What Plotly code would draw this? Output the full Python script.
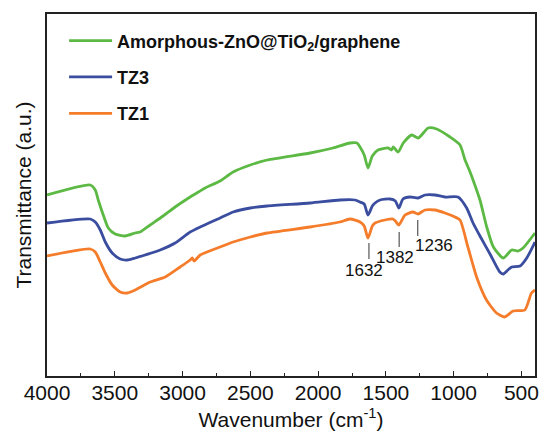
import plotly.graph_objects as go

# FTIR spectra, transmittance in arbitrary units (offset curves)
green_wn = [4000, 3681, 3644, 3622, 3585, 3548, 3497, 3423, 3349, 3313, 3239, 3143, 3055, 2944,
            2920, 2907, 2833, 2723, 2627, 2500, 2376, 2059, 1890, 1765, 1713, 1691, 1660, 1632,
            1600, 1558, 1483, 1458, 1446, 1409, 1372, 1310, 1261, 1188, 1126, 1027, 953, 916,
            879, 857, 806, 756, 707, 634, 572, 524, 488, 400]
green_t = [181, 191, 186, 176, 161, 148, 142, 140, 143, 144, 151, 160, 169, 179,
           181, 182, 188, 195, 204, 211, 216, 223, 228, 233, 233, 229, 221, 208,
           220, 226, 228, 226, 229, 224, 233, 241, 238, 248, 247, 239, 231, 216,
           204, 196, 176, 149, 129, 118, 126, 125, 128, 143]

blue_wn = [4000, 3681, 3644, 3607, 3570, 3519, 3460, 3408, 3349, 3276, 3165, 3055, 2944, 2870,
           2723, 2627, 2500, 2376, 2059, 1839, 1728, 1691, 1660, 1632, 1600, 1580, 1543, 1470,
           1430, 1404, 1374, 1322, 1263, 1212, 1138, 1064, 968, 904, 857, 806, 732, 660, 634,
           600, 572, 510, 461, 400]
blue_t = [153, 157, 154, 146, 134, 123, 117, 116, 118, 121, 126, 133, 144, 149,
          158, 164, 168, 170, 173, 176, 176, 174, 172, 161, 170, 173, 176, 177,
          175, 168, 177, 179, 178, 181, 181, 179, 179, 168, 153, 140, 122, 104, 102,
          106, 109, 110, 118, 134]

orange_wn = [4000, 3681, 3644, 3607, 3570, 3519, 3460, 3408, 3349, 3239, 3128, 3018, 2944, 2929,
             2915, 2870, 2723, 2627, 2500, 2376, 2059, 1839, 1765, 1691, 1660, 1632, 1600, 1580,
             1507, 1448, 1430, 1404, 1359, 1300, 1263, 1212, 1138, 1064, 990, 953, 895, 831, 758,
             684, 623, 562, 475, 426, 400]
orange_t = [120, 127, 124, 114, 103, 91, 84, 83, 86, 94, 99, 109, 116, 118,
            115, 121, 129, 134, 139, 143, 149, 154, 157, 154, 150, 138, 150, 153,
            156, 157, 155, 151, 161, 164, 162, 166, 166, 163, 159, 156, 129, 99, 76,
            63, 59, 65, 66, 83, 86]

peak_labels = ["1632", "1382", "1236"]
peak_pos = [1625, 1402, 1265]          # where the marker lines sit in the picture
peak_line_top = [133, 144, 156]
peak_line_bottom = [117, 129, 140]
peak_text_y = [106, 119, 131]
peak_text_shift = [-5, -4, 16]

series = [
    ("Amorphous-ZnO@TiO<sub>2</sub>/graphene", green_wn, green_t, "#5cb944"),
    ("TZ3", blue_wn, blue_t, "#3a4d9f"),
    ("TZ1", orange_wn, orange_t, "#f47c2a"),
]

fig = go.Figure()
for i, (name, wn, t, color) in enumerate(series):
    fig.add_trace(go.Scatter(
        x=wn, y=t, mode="lines", name=name, legendgroup=str(i),
        line=dict(color=color, width=2.8, shape="spline", smoothing=0.6),
    ))

for lab, pos, y0, y1, ty, sh in zip(peak_labels, peak_pos, peak_line_top, peak_line_bottom,
                                    peak_text_y, peak_text_shift):
    fig.add_shape(type="line", x0=pos, x1=pos, y0=y0, y1=y1, line=dict(color="#555", width=1.2))
    fig.add_annotation(x=pos, y=ty, text=lab, showarrow=False, xshift=sh,
                       font=dict(size=17, color="#111"))

axis_font = dict(family="Liberation Sans, Arial", size=21, color="#111")
fig.update_xaxes(
    range=[4000, 400], showline=True, mirror=True, linecolor="#222", linewidth=1.5,
    ticks="inside", ticklen=5, tickcolor="#222", tickwidth=1.3, dtick=500, tick0=500,
    minor=dict(ticks="inside", ticklen=3, dtick=250, tickcolor="#222"),
    showgrid=False, zeroline=False, tickfont=axis_font, automargin=False,
    ticklabelstandoff=-3,
    title=dict(text="Wavenumber (cm<sup>-1</sup>)", font=axis_font, standoff=9),
)
fig.update_yaxes(
    range=[0, 362], showline=True, mirror=True, linecolor="#222", linewidth=1.5,
    ticks="", showticklabels=False, showgrid=False, zeroline=False, automargin=False,
    title=dict(text="Transmittance (a.u.)", font=axis_font, standoff=8),
)
fig.update_layout(
    width=539, height=434,
    margin=dict(l=47, r=4, t=14, b=58),
    plot_bgcolor="white", paper_bgcolor="white",
    font=dict(family="Liberation Sans, Arial", color="#111"),
    legend=dict(x=0.035, y=0.977, xanchor="left", yanchor="top", traceorder="grouped",
                tracegroupgap=10, itemwidth=43, bgcolor="rgba(0,0,0,0)",
                font=dict(size=18, weight="bold", family="Liberation Sans, Arial", color="#111")),
)
# drop the browser's default page margin so the figure sits at the window origin
fig.write_html("out.html", config={"displayModeBar": False},
               post_script="document.body.style.margin='0';")
